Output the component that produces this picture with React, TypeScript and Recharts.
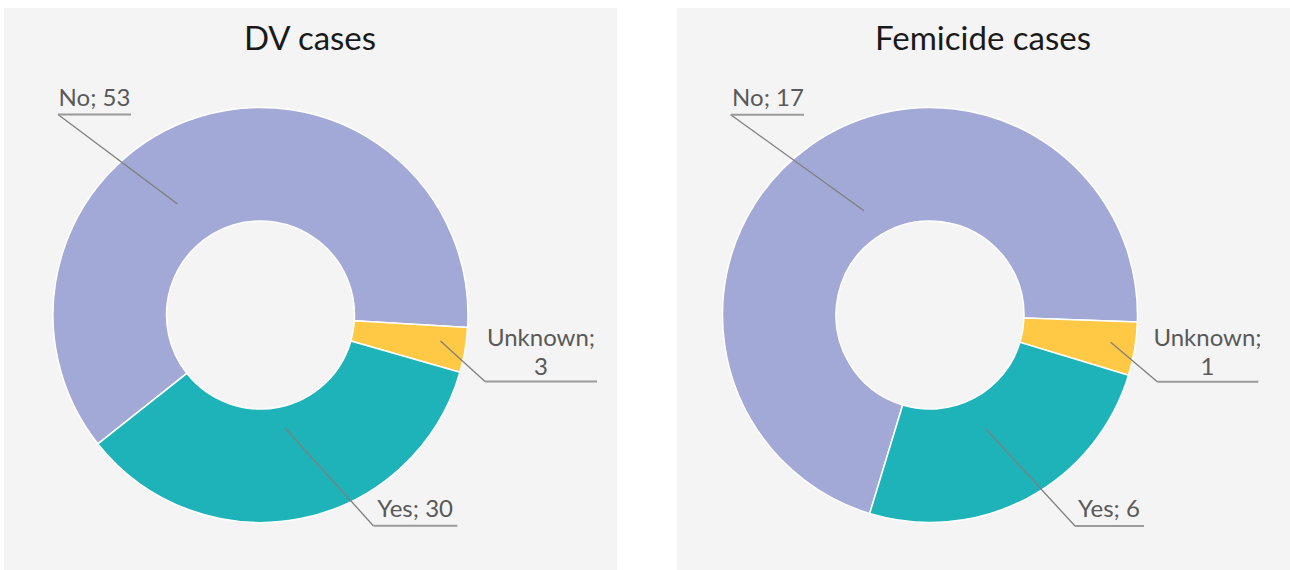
import React from "react";
import { PieChart, Pie, Cell } from "recharts";

// ---- Data ----
const categories = ["No", "Unknown", "Yes"];
const dvValues = [53, 3, 30];
const femicideValues = [17, 1, 6];
const chartTitles = ["DV cases", "Femicide cases"];

// ---- Styling ----
const sliceColors: Record<string, string> = {
  No: "#a3a9d6",
  Unknown: "#ffc845",
  Yes: "#1db3b9",
};
const FONT = "Lato, 'Open Sans', sans-serif";
const PANEL_W = 613;
const PANEL_H = 562;
const CY = 307;
const INNER_R = 94;
const OUTER_R = 207.5;

type LabelLayout = {
  tx: number; // text centre x offset from pie centre
  ty: number; // baseline of (first) line
  twoLines?: boolean;
  uy: number; // underline y
  ux1: number;
  ux2: number;
  lx: number; // leader inner point
  ly: number;
};

const dvLayout: Record<string, LabelLayout> = {
  No: { tx: -166, ty: -209, uy: -200.5, ux1: -202.5, ux2: -129.5, lx: -83, ly: -111 },
  Unknown: { tx: 280.5, ty: 30.5, twoLines: true, uy: 66.5, ux1: 224.5, ux2: 336.5, lx: 180, ly: 26 },
  Yes: { tx: 154.7, ty: 202, uy: 210.7, ux1: 112.8, ux2: 196.8, lx: 24.5, ly: 113 },
};
const femLayout: Record<string, LabelLayout> = {
  No: { tx: -162, ty: -209, uy: -200.3, ux1: -199.3, ux2: -126, lx: -66, ly: -104.3 },
  Unknown: { tx: 277.5, ty: 30.5, twoLines: true, uy: 66.7, ux1: 227.3, ux2: 328.3, lx: 180.7, ly: 27.3 },
  Yes: { tx: 179, ty: 201.7, uy: 211, ux1: 145, ux2: 214, lx: 56, ly: 114 },
};

function makeLabel(layout: Record<string, LabelLayout>) {
  return (props: any) => {
    const { cx, cy, index, value } = props;
    const name = categories[index];
    const l = layout[name];
    if (!l) return null;
    const x1 = cx + l.ux1;
    const y = cy + l.uy;
    return (
      <g key={`lbl-${index}`}>
        <line x1={cx + l.lx} y1={cy + l.ly} x2={x1} y2={y} stroke="#7f7f7f" strokeWidth={1.3} />
        <line x1={x1} y1={y} x2={cx + l.ux2} y2={y} stroke="#9a9a9a" strokeWidth={2} />
        {l.twoLines ? (
          <text x={cx + l.tx} y={cy + l.ty} textAnchor="middle" fill="#595959" fontSize={24} fontFamily={FONT}>
            <tspan x={cx + l.tx}>{name};</tspan>
            <tspan x={cx + l.tx} dy={29.5}>{value}</tspan>
          </text>
        ) : (
          <text x={cx + l.tx} y={cy + l.ty} textAnchor="middle" fill="#595959" fontSize={24} fontFamily={FONT}>
            {`${name}; ${value}`}
          </text>
        )}
      </g>
    );
  };
}

function Donut({
  title,
  values,
  layout,
  startAngle,
  left,
  cx,
}: {
  title: string;
  values: number[];
  layout: Record<string, LabelLayout>;
  startAngle: number;
  left: number;
  cx: number;
}) {
  const data = categories.map((c, i) => ({ name: c, value: values[i] }));
  return (
    <div
      style={{
        position: "absolute",
        left,
        top: 8,
        width: PANEL_W,
        height: PANEL_H,
        background: "#f4f4f4",
      }}
    >
      <PieChart width={PANEL_W} height={PANEL_H} margin={{ top: 0, right: 0, bottom: 0, left: 0 }}>
        <text
          x={PANEL_W / 2 - 0.5}
          y={42}
          textAnchor="middle"
          fontSize={33}
          fontFamily={FONT}
          fill="#1a1a1a"
        >
          {title}
        </text>
        <Pie
          data={data}
          dataKey="value"
          nameKey="name"
          cx={cx}
          cy={CY}
          innerRadius={INNER_R}
          outerRadius={OUTER_R}
          startAngle={startAngle}
          endAngle={startAngle - 360}
          stroke="#ffffff"
          strokeWidth={1.5}
          isAnimationActive={false}
          labelLine={false}
          label={makeLabel(layout)}
        >
          {data.map((d) => (
            <Cell key={d.name} fill={sliceColors[d.name]} />
          ))}
        </Pie>
      </PieChart>
    </div>
  );
}

export default function App() {
  return (
    <div
      style={{
        position: "absolute",
        left: 0,
        top: 0,
        width: 1290,
        height: 570,
        background: "#ffffff",
        overflow: "hidden",
      }}
    >
      <Donut title={chartTitles[0]} values={dvValues} layout={dvLayout} startAngle={218.4} left={4} cx={256.5} />
      <Donut title={chartTitles[1]} values={femicideValues} layout={femLayout} startAngle={253.1} left={677} cx={253} />
    </div>
  );
}
